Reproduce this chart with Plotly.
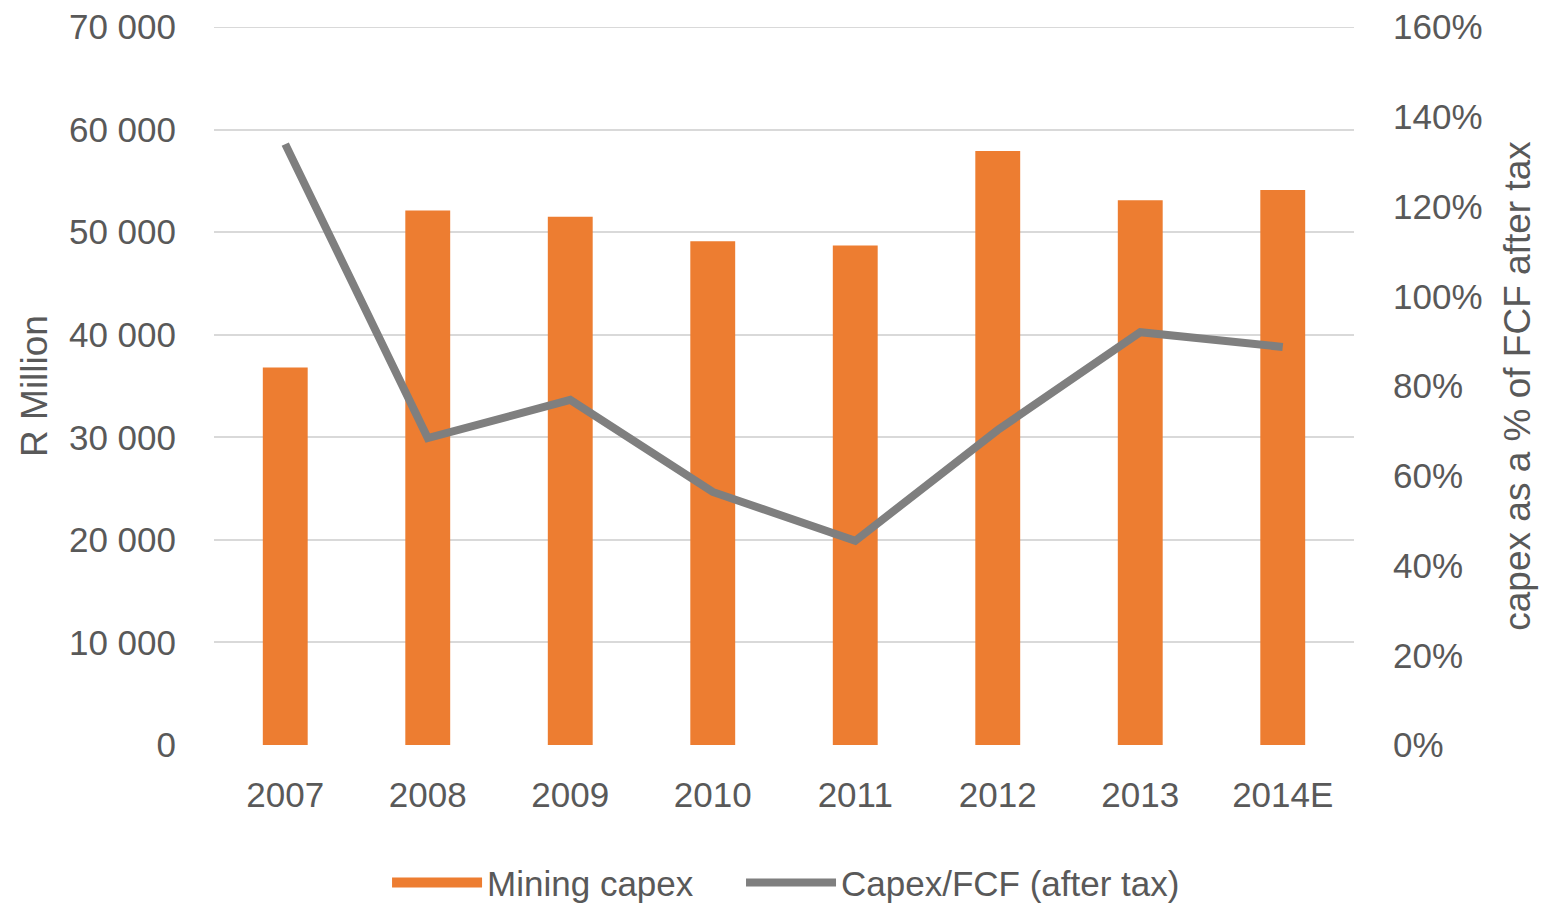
import plotly.graph_objects as go

years = ["2007", "2008", "2009", "2010", "2011", "2012", "2013", "2014E"]
mining_capex = [36800, 52100, 51500, 49100, 48700, 57900, 53100, 54100]
capex_fcf_pct = [133.9, 68.4, 76.9, 56.4, 45.5, 70.2, 92.0, 88.7]

FONT = "Liberation Sans Narrow, Arial Narrow, Liberation Sans, Arial, sans-serif"
TXT = "#595959"
GRID = "#D9D9D9"
FS = 35

fig = go.Figure()
fig.add_trace(go.Bar(
    x=years, y=mining_capex, name="Mining capex",
    marker=dict(color="#ED7D31", line=dict(width=0)),
    yaxis="y", showlegend=False,
))
# legend proxy for the bars (wide swatch like the reference)
fig.add_trace(go.Scatter(
    x=[None], y=[None], name="Mining capex", mode="lines",
    line=dict(color="#ED7D31", width=20), yaxis="y", legend="legend",
))
fig.add_trace(go.Scatter(
    x=years, y=capex_fcf_pct, name="Capex/FCF (after tax)",
    mode="lines", line=dict(color="#7F7F7F", width=8),
    yaxis="y2", legend="legend2",
))

# top gridline (plotly omits the grid line lying on the plot edge)
fig.add_shape(type="line", xref="paper", x0=0, x1=1, yref="y", y0=70000, y1=70000,
              line=dict(color=GRID, width=2), layer="below")

legend_common = dict(orientation="h", xanchor="left", y=-0.192, yanchor="middle",
                     font=dict(family=FONT, size=FS, color=TXT), itemwidth=90,
                     bgcolor="rgba(0,0,0,0)")

fig.update_layout(
    width=1539, height=898,
    margin=dict(l=206, r=193, t=19, b=161, autoexpand=False),
    paper_bgcolor="white", plot_bgcolor="white",
    font=dict(family=FONT, size=FS, color=TXT),
    bargap=0.685,
    showlegend=True,
    legend=dict(x=0.1518, **legend_common),
    legend2=dict(x=0.4623, **legend_common),
    xaxis=dict(showgrid=False, showline=False, ticks="", ticklabelstandoff=26,
               automargin=False, tickfont=dict(size=FS)),
    yaxis=dict(range=[0, 70000], dtick=10000, tickformat=",d",
               showgrid=True, gridcolor=GRID, gridwidth=2,
               zeroline=False, showline=False, ticks="",
               ticklabelstandoff=37, automargin=False, ticklabeloverflow="allow",
               title=dict(text="R Million", font=dict(size=37, color=TXT), standoff=9)),
    yaxis2=dict(range=[0, 160], dtick=20, ticksuffix="%", overlaying="y", side="right",
                showgrid=False, zeroline=False, showline=False, ticks="",
                ticklabelstandoff=38, automargin=False, ticklabeloverflow="allow",
                title=dict(text="capex as a % of FCF after tax", font=dict(size=37, color=TXT), standoff=22)),
    separators=". ",
)

fig.write_html("out.html")
